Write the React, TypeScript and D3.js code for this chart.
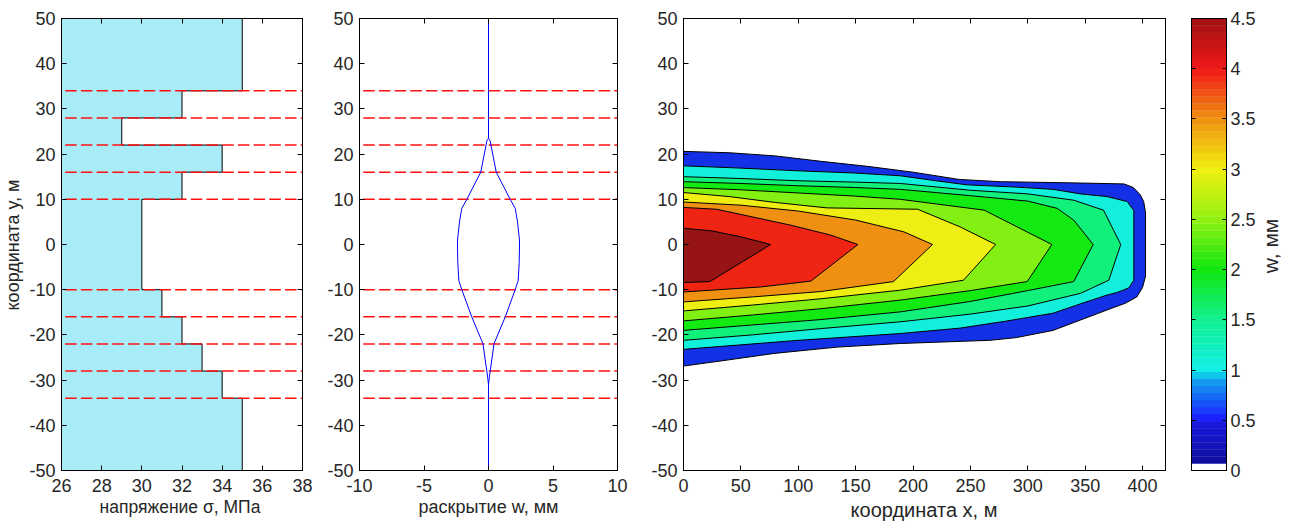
import React from 'react';
import * as d3 from 'd3';

// ---------- data ----------
const layerBounds = [50, 34, 28, 22, 16, 10, -10, -16, -22, -28, -34, -50];
const layerStress = [35, 32, 29, 34, 32, 30, 31, 32, 33, 34, 35];
const interfaces = [34, 28, 22, 16, 10, -10, -16, -22, -28, -34];

const profileY = [50, 23.5, 23, 16, 10, 8, 5, 1, -1, -4, -8, -10, -16, -22, -24, -28, -29.5, -31, -50];
const profileHalfW = [0, 0, 0.12, 0.6, 1.68, 2.07, 2.25, 2.4, 2.4, 2.38, 2.3, 2.07, 1.3, 0.42, 0.33, 0.13, 0.06, 0, 0];

const stressTicks = [26, 28, 30, 32, 34, 36, 38];
const yTicks = [-50, -40, -30, -20, -10, 0, 10, 20, 30, 40, 50];
const wTicks = [-10, -5, 0, 5, 10];
const xTicks = [0, 50, 100, 150, 200, 250, 300, 350, 400];
const cbTicks = [0, 0.5, 1, 1.5, 2, 2.5, 3, 3.5, 4, 4.5];

// colour map of the colour bar
const cmapStops = [0, 0.45, 0.5, 0.9, 1.0, 1.5, 2.0, 2.5, 3.0, 3.5, 4.0, 4.5];
const cmapColors = ['#0c0c90', '#1818d8', '#1a1aff', '#14a0f0', '#10f0e8', '#10f090', '#10e810', '#90f010', '#f0f010', '#f09010', '#f01818', '#a01010'];

// contour levels: fill colours, upper edge (to tip) and lower edge (from x = 0)
const levelColors = ['#1430e6', '#12f0dc', '#12f07c', '#12ea12', '#82f012', '#eeee12', '#f09012', '#f02412', '#961414'];
const levelTops: number[][][] = [
  [[0, 20.6], [40, 20.3], [80, 19.6], [120, 18.4], [160, 17.3], [200, 16.0], [240, 14.4], [276, 13.9], [346, 13.6], [384, 13.4], [392, 12.6], [398, 11.0], [401, 9.5], [402.6, 7], [402.6, -7]],
  [[0, 17.4], [50, 16.9], [100, 16.3], [150, 15.8], [189, 15.2], [220, 14.1], [247, 13.2], [290, 12.7], [322, 12.2], [346, 11.2], [369, 10.6], [386.6, 9.5], [392.4, 7.5], [392.4, -7.9]],
  [[0, 15.0], [50, 14.6], [100, 14.1], [150, 13.8], [189, 13.5], [250, 12.0], [300, 11.2], [340, 9.8], [366, 7.6], [381, 0]],
  [[0, 13.9], [50, 13.5], [100, 13.0], [150, 12.6], [189, 12.2], [250, 10.8], [300, 9.6], [325.6, 8.0], [340, 5.4], [357, 0]],
  [[0, 12.6], [50, 12.1], [100, 11.4], [150, 10.7], [189, 10.0], [262, 7.6], [321, 0]],
  [[0, 11.5], [40, 10.6], [80, 9.3], [125, 8.1], [204, 7.8], [241, 3.9], [272, 0]],
  [[0, 9.4], [50, 8.7], [100, 7.4], [150, 5.4], [192, 2.8], [217, 0]],
  [[0, 8.2], [29, 7.8], [93, 4.3], [128, 2.1], [152, 0]],
  [[0, 3.6], [25, 3.0], [50, 1.7], [76, 0]],
];
const levelBottoms: number[][][] = [
  [[0, -26.9], [40, -25.5], [79, -24.1], [134, -22.7], [189, -21.9], [267, -21.2], [290, -20.6], [322, -19], [346, -16.7], [370, -14.4], [385, -13], [395, -11.6], [400, -9.5]],
  [[0, -23.2], [50, -22.2], [100, -21.2], [189, -19.7], [241, -18.5], [280, -17], [322, -15.2], [345, -13.2], [369, -11.2], [378, -10.6], [388, -9.6]],
  [[0, -21.2], [60, -20.0], [120, -18.6], [189, -17.1], [250, -15.4], [300, -13.6], [346, -10.8], [370.6, -7.9]],
  [[0, -19.0], [60, -17.8], [120, -16.6], [189, -14.9], [250, -12.6], [300, -10.2], [340, -8.2]],
  [[0, -16.9], [60, -15.6], [120, -14.2], [189, -12.3], [250, -10.2], [299.5, -8.2]],
  [[0, -14.7], [60, -13.4], [120, -12.0], [189, -10.1], [244, -7.9]],
  [[0, -12.7], [60, -11.6], [120, -10.4], [183, -8.2]],
  [[0, -10.5], [67, -9.4], [111, -8.1]],
  [[0, -8.4], [23, -8.2]],
];

// ---------- layout ----------
const yTopPx = 18.5;
const yBotPx = 470.5;
const FONT = '"Liberation Sans", Arial, Helvetica, sans-serif';
const TXT = '#262626';
const FS = 18;
const TL = 5;

const yScale = d3.scaleLinear().domain([-50, 50]).range([yBotPx, yTopPx]);
const x1Scale = d3.scaleLinear().domain([26, 38]).range([61.5, 302.5]);
const x2Scale = d3.scaleLinear().domain([-10, 10]).range([359.5, 617.5]);
const x3Scale = d3.scaleLinear().domain([0, 420]).range([683.5, 1165.5]);
const cbScale = d3.scaleLinear().domain([0, 4.5]).range([yBotPx, yTopPx]);
const cbX0 = 1191.5;
const cbX1 = 1226.5;

const snap = (v: number) => Math.round(v - 0.5) + 0.5;

function Frame({ xs, xTicksArr, labelGap = 6 }: { xs: d3.ScaleLinear<number, number>; xTicksArr: number[]; labelGap?: number }) {
  const [x0, x1] = xs.range();
  return (
    <g>
      {xTicksArr.map((t) => {
        const px = snap(xs(t));
        return (
          <g key={'x' + t}>
            <line x1={px} x2={px} y1={yBotPx} y2={yBotPx - TL} stroke="#000" />
            <line x1={px} x2={px} y1={yTopPx} y2={yTopPx + TL} stroke="#000" />
            <text x={xs(t)} y={yBotPx + 21} textAnchor="middle" fontFamily={FONT} fontSize={FS} fill={TXT}>{t}</text>
          </g>
        );
      })}
      {yTicks.map((t) => {
        const py = snap(yScale(t));
        return (
          <g key={'y' + t}>
            <line x1={x0} x2={x0 + TL} y1={py} y2={py} stroke="#000" />
            <line x1={x1} x2={x1 - TL} y1={py} y2={py} stroke="#000" />
            <text x={x0 - labelGap} y={yScale(t) + 6.5} textAnchor="end" fontFamily={FONT} fontSize={FS} fill={TXT}>{t}</text>
          </g>
        );
      })}
      <rect x={x0} y={yTopPx} width={x1 - x0} height={yBotPx - yTopPx} fill="none" stroke="#000" />
    </g>
  );
}

function Dashes({ xs }: { xs: d3.ScaleLinear<number, number> }) {
  const [x0, x1] = xs.range();
  return (
    <g>
      {interfaces.map((b) => (
        <line key={b} x1={x0} x2={x1} y1={yScale(b)} y2={yScale(b)} stroke="#ff1010" strokeWidth={1.4} strokeDasharray="11.5 4.2" strokeDashoffset={12} />
      ))}
    </g>
  );
}

export default function App() {
  // panel 1 stair polygon
  const stairPts: [number, number][] = [[26, layerBounds[0]]];
  layerStress.forEach((s, i) => {
    stairPts.push([s, layerBounds[i]]);
    stairPts.push([s, layerBounds[i + 1]]);
  });
  stairPts.push([26, layerBounds[layerBounds.length - 1]]);
  const stairLine = d3.line<[number, number]>().x((d) => x1Scale(d[0])).y((d) => yScale(d[1]));
  const stairPath = stairLine(stairPts) + 'Z';

  // panel 2 profile
  const profLine = d3.line<number>().x((_, i) => x2Scale(profileHalfW[i])).y((_, i) => yScale(profileY[i]));
  const profLineL = d3.line<number>().x((_, i) => x2Scale(-profileHalfW[i])).y((_, i) => yScale(profileY[i]));

  // panel 3 contours
  const cLine = d3.line<number[]>().x((d) => x3Scale(d[0])).y((d) => yScale(d[1]));
  const contourPaths = levelTops.map((top, i) => {
    const pts = [...top, ...[...levelBottoms[i]].reverse()];
    return cLine(pts) + 'Z';
  });

  // colour bar bands
  const cmap = d3.scaleLinear<string>().domain(cmapStops).range(cmapColors).interpolate(d3.interpolateRgb).clamp(true);
  const nBands = 64;
  const bands = d3.range(nBands).map((k) => {
    const v0 = (k * 4.5) / nBands;
    const v1 = ((k + 1) * 4.5) / nBands;
    return { y0: cbScale(v1), y1: cbScale(v0), color: k === 0 ? '#ffffff' : cmap((v0 + v1) / 2) };
  });

  return (
    <svg width={1302} height={525} style={{ position: 'absolute', left: 0, top: 0, background: '#fff' }}>
      <rect x={0} y={0} width={1302} height={525} fill="#fff" />
      <defs>
        <clipPath id="clip3">
          <rect x={x3Scale.range()[0]} y={yTopPx} width={x3Scale.range()[1] - x3Scale.range()[0]} height={yBotPx - yTopPx} />
        </clipPath>
      </defs>

      {/* Panel 1 */}
      <path d={stairPath} fill="#a8ecf8" stroke="#000" strokeWidth={1} />
      <Dashes xs={x1Scale} />
      <Frame xs={x1Scale} xTicksArr={stressTicks} />
      <text x={180} y={512.5} textAnchor="middle" fontFamily={FONT} fontSize={17.5} fill={TXT}>напряжение σ, МПа</text>
      <text transform={`translate(19,245) rotate(-90)`} textAnchor="middle" fontFamily={FONT} fontSize={18} fill={TXT}>координата y, м</text>

      {/* Panel 2 */}
      <Dashes xs={x2Scale} />
      <path d={profLine(profileY) || ''} fill="none" stroke="#0000ff" strokeWidth={1} />
      <path d={profLineL(profileY) || ''} fill="none" stroke="#0000ff" strokeWidth={1} />
      <Frame xs={x2Scale} xTicksArr={wTicks} />
      <text x={488.5} y={512.5} textAnchor="middle" fontFamily={FONT} fontSize={FS} fill={TXT}>раскрытие w, мм</text>

      {/* Panel 3 */}
      <g clipPath="url(#clip3)">
        {contourPaths.map((d, i) => (
          <path key={i} d={d} fill={levelColors[i]} stroke="#000" strokeWidth={1} />
        ))}
      </g>
      <Frame xs={x3Scale} xTicksArr={xTicks} />
      <text x={924} y={517} textAnchor="middle" fontFamily={FONT} fontSize={20} fill={TXT}>координата x, м</text>

      {/* Colour bar */}
      {bands.map((b, i) => (
        <rect key={i} x={cbX0} y={b.y0} width={cbX1 - cbX0} height={b.y1 - b.y0 + 0.3} fill={b.color} />
      ))}
      {cbTicks.map((t) => {
        const py = snap(cbScale(t));
        return (
          <g key={t}>
            <line x1={cbX0} x2={cbX0 + 4} y1={py} y2={py} stroke="#000" />
            <line x1={cbX1} x2={cbX1 - 4} y1={py} y2={py} stroke="#000" />
            <text x={cbX1 + 4} y={cbScale(t) + 6.5} fontFamily={FONT} fontSize={FS} fill={TXT}>{t}</text>
          </g>
        );
      })}
      <rect x={cbX0} y={yTopPx} width={cbX1 - cbX0} height={yBotPx - yTopPx} fill="none" stroke="#000" />
      <text transform={`translate(1278,246) rotate(-90)`} textAnchor="middle" fontFamily={FONT} fontSize={21} fill={TXT}>w, мм</text>
    </svg>
  );
}
